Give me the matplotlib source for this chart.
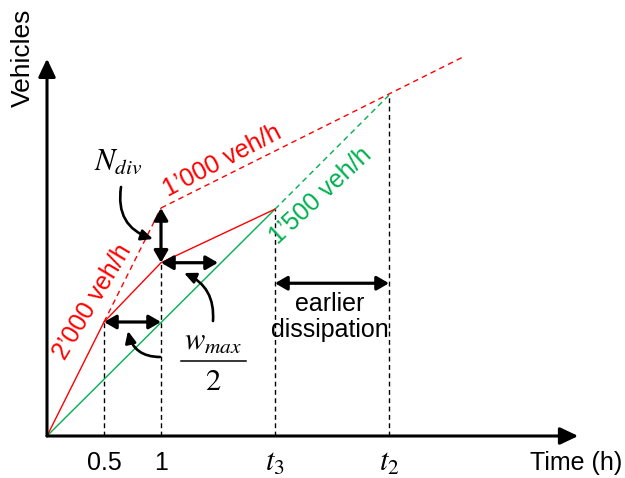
import matplotlib
matplotlib.use("Agg")
import matplotlib.pyplot as plt

plt.rcParams['font.family'] = ['Liberation Sans', 'DejaVu Sans']
plt.rcParams['mathtext.fontset'] = 'stix'

# ---- data (time in h, cumulative vehicles) ----
red_solid_t = [0, 0.5, 1, 2]
red_solid_v = [0, 1000, 1520, 1990]
red_dash1_t = [0.5, 1]
red_dash1_v = [1000, 2000]
red_dash2_t = [1, 3.64]
red_dash2_v = [2000, 3320]
green_solid_t = [0, 2]
green_solid_v = [0, 1990]
green_dash_t = [2, 3]
green_dash_v = [1990, 2990]
guide_t = [0.5, 1, 2, 3]
guide_v = [1000, 1520, 1990, 2990]
tick_pos = [0.5, 1, 2, 3]
tick_labels = ['0.5', '1', '$t_3$', '$t_2$']

RED = '#FF0000'
GREEN = '#00B050'

W, H = 625, 478
fig = plt.figure(figsize=(W / 100, H / 100), dpi=100)
ax = fig.add_axes([0, 0, 1, 1])
X0, Y0, SX, SY = 47, 436, 114, 0.114
ax.set_xlim((0 - X0) / SX, (W - X0) / SX)
ax.set_ylim((Y0 - H) / SY, (Y0 - 0) / SY)
ax.axis('off')


def px(x, y):
    return ((x - X0) / SX, (Y0 - y) / SY)


# guide lines
for t, v in zip(guide_t, guide_v):
    ax.plot([t, t], [0, v], color='black', lw=1.0, ls=(0, (3.5, 2.5)), zorder=1)

ax.plot(red_solid_t, red_solid_v, color=RED, lw=1.0, zorder=3)
ax.plot(red_dash1_t, red_dash1_v, color=RED, lw=1.0, ls=(0, (4, 3)), zorder=3)
ax.plot(red_dash2_t, red_dash2_v, color=RED, lw=1.0, ls=(0, (4, 3)), zorder=3)
ax.plot(green_solid_t, green_solid_v, color=GREEN, lw=1.0, zorder=2)
ax.plot(green_dash_t, green_dash_v, color=GREEN, lw=1.0, ls=(0, (4, 3)), zorder=2)

# axes arrows
ap = dict(arrowstyle='-|>,head_length=0.55,head_width=0.26', color='black', lw=2.2,
          shrinkA=0, shrinkB=0, mutation_scale=20)
ax.annotate('', xy=(4.66, 0), xytext=(0, 0), arrowprops=ap)
ax.annotate('', xy=(0, 3310), xytext=(0, 0), arrowprops=ap)

ax.text(*px(23, 58), 'Vehicles', rotation=90, ha='center', va='center', fontsize=19)
ax.text(*px(622, 463), 'Time (h)', ha='right', va='center', fontsize=18)
for p, l in zip(tick_pos, tick_labels):
    if l.startswith('$'):
        ax.text(p, (Y0 - 463) / SY, l, ha='center', va='center', fontsize=22)
    else:
        ax.text(p, (Y0 - 463) / SY, l, ha='center', va='center', fontsize=18)

# rate labels
ax.text(*px(92, 302), '2’000 veh/h', color=RED, rotation=59, rotation_mode='anchor',
        ha='center', va='center', fontsize=18)
ax.text(*px(222, 161), '1’000 veh/h', color=RED, rotation=27.5, rotation_mode='anchor',
        ha='center', va='center', fontsize=18)
ax.text(*px(321, 196), '1’500 veh/h', color=GREEN, rotation=43, rotation_mode='anchor',
        ha='center', va='center', fontsize=18)

# double arrows
dp = dict(arrowstyle='<|-|>,head_length=0.45,head_width=0.26', color='black', lw=2.3,
          shrinkA=0, shrinkB=0, mutation_scale=16)
ax.annotate('', xy=(1, 2000), xytext=(1, 1520), arrowprops=dp)
ax.annotate('', xy=(1.5, 1520), xytext=(1, 1520), arrowprops=dp)
ax.annotate('', xy=(1, 1000), xytext=(0.5, 1000), arrowprops=dp)
ax.annotate('', xy=(3, 1340), xytext=(2, 1340), arrowprops=dp)

ax.text(*px(330, 304), 'earlier', ha='center', va='center', fontsize=18)
ax.text(*px(330, 330), 'dissipation', ha='center', va='center', fontsize=18)

# math labels
ax.text(*px(118, 162), '$N_{div}$', ha='center', va='center', fontsize=22)
ax.text(*px(213, 342), '$w_{max}$', ha='center', va='center', fontsize=22)
fx0, fy = px(181, 361)
fx1, _ = px(246, 361)
ax.plot([fx0, fx1], [fy, fy], color='black', lw=1.1)
ax.text(*px(213, 382), '$2$', ha='center', va='center', fontsize=22)

# curved arrows
cp = dict(arrowstyle='-|>,head_length=0.5,head_width=0.23', color='black', lw=1.9,
          shrinkA=0, shrinkB=0, mutation_scale=14)
ax.annotate('', xy=px(153, 239), xytext=px(121, 187),
            arrowprops=dict(cp, connectionstyle='arc3,rad=0.42'))
ax.annotate('', xy=px(128, 331), xytext=px(160, 357),
            arrowprops=dict(cp, connectionstyle='arc3,rad=-0.4'))
ax.annotate('', xy=px(184, 273), xytext=px(213, 321),
            arrowprops=dict(cp, connectionstyle='arc3,rad=0.35'))

fig.savefig('out.png', dpi=100)
